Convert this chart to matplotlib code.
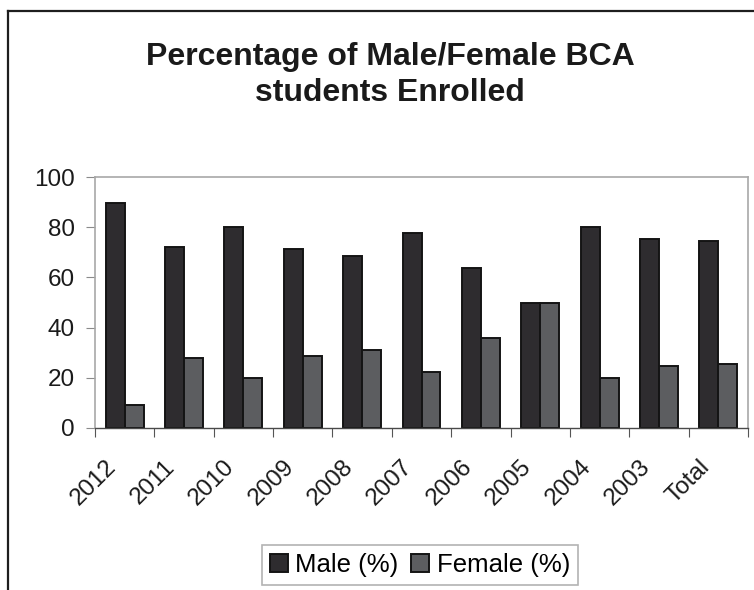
import matplotlib
matplotlib.use("Agg")
import matplotlib.pyplot as plt
import matplotlib.transforms as mtransforms
import numpy as np
from matplotlib.lines import Line2D
from matplotlib.ticker import FixedLocator

plt.rcParams['font.family'] = ['Liberation Sans', 'DejaVu Sans']

categories = ["2012", "2011", "2010", "2009", "2008", "2007",
              "2006", "2005", "2004", "2003", "Total"]
male = [89.6, 72.0, 80.0, 71.2, 68.7, 77.6, 63.9, 50.0, 80.0, 75.1, 74.4]
female = [9.3, 27.8, 19.8, 28.6, 31.0, 22.4, 35.9, 50.0, 19.8, 24.6, 25.6]
y_ticks = [0, 20, 40, 60, 80, 100]

W, H = 754, 590
fig = plt.figure(figsize=(W / 100, H / 100), dpi=100)
fig.patch.set_facecolor("white")

# outer chart-area border (top and left edges visible)
fig.add_artist(Line2D([8 / W, 8 / W], [-0.1, 1 - 11 / H], transform=fig.transFigure,
                      color="#1e1e1e", lw=1.6))
fig.add_artist(Line2D([8 / W, 1.1], [1 - 11 / H, 1 - 11 / H], transform=fig.transFigure,
                      color="#1e1e1e", lw=1.6))

left, right, top, bottom = 95 / W, 748 / W, 1 - 177 / H, 1 - 428 / H
ax = fig.add_axes([left, bottom, right - left, top - bottom])

x = np.arange(len(categories))
bw = 0.32
male_color = "#2e2c2f"
female_color = "#5c5d60"
ax.bar(x - bw / 2, male, bw, color=male_color, edgecolor="#141414", linewidth=1.4,
       label="Male (%)")
ax.bar(x + bw / 2, female, bw, color=female_color, edgecolor="#141414", linewidth=1.4,
       label="Female (%)")

ax.set_xlim(-0.5, len(categories) - 0.5)
ax.set_ylim(0, 100)
ax.set_yticks(y_ticks)
ax.set_yticklabels([str(v) for v in y_ticks], fontsize=17.5, color="#1a1a1a")
ax.tick_params(axis="y", direction="out", length=6.5, width=0.8, color="#8a8a8a", pad=8)

ax.set_xticks(x)
ax.set_xticklabels(categories, fontsize=17.5, rotation=45, ha="right",
                   rotation_mode="anchor", color="#1a1a1a")
ax.tick_params(axis="x", which="major", length=0, pad=10)
ax.xaxis.set_minor_locator(FixedLocator(np.arange(-0.5, len(categories), 1.0)))
ax.tick_params(axis="x", which="minor", direction="out", length=6.5, width=0.8,
               color="#555555")
shift = mtransforms.ScaledTranslation(-20 / 100, -14 / 100, fig.dpi_scale_trans)
for lbl in ax.get_xticklabels():
    lbl.set_transform(lbl.get_transform() + shift)

for side in ("top", "right", "left"):
    ax.spines[side].set_color("#a8a8a8")
    ax.spines[side].set_linewidth(1.2)
ax.spines["bottom"].set_color("#4a4a4a")
ax.spines["bottom"].set_linewidth(1.0)

fig.text(390 / W, 1 - 75 / H, "Percentage of Male/Female BCA\nstudents Enrolled",
         ha="center", va="center", fontsize=23, fontweight="bold", color="#1a1a1a",
         linespacing=1.3)

leg = ax.legend(loc="center", bbox_to_anchor=(420 / W, 1 - 565 / H),
                bbox_transform=fig.transFigure, ncol=2, fontsize=18.5, frameon=True,
                fancybox=False, edgecolor="#a0a0a0", handlelength=0.7,
                handleheight=0.7, handletextpad=0.3, columnspacing=0.5,
                borderpad=0.3, borderaxespad=0)
leg.get_frame().set_linewidth(1.2)

fig.savefig("out.png", dpi=100, facecolor="white")
